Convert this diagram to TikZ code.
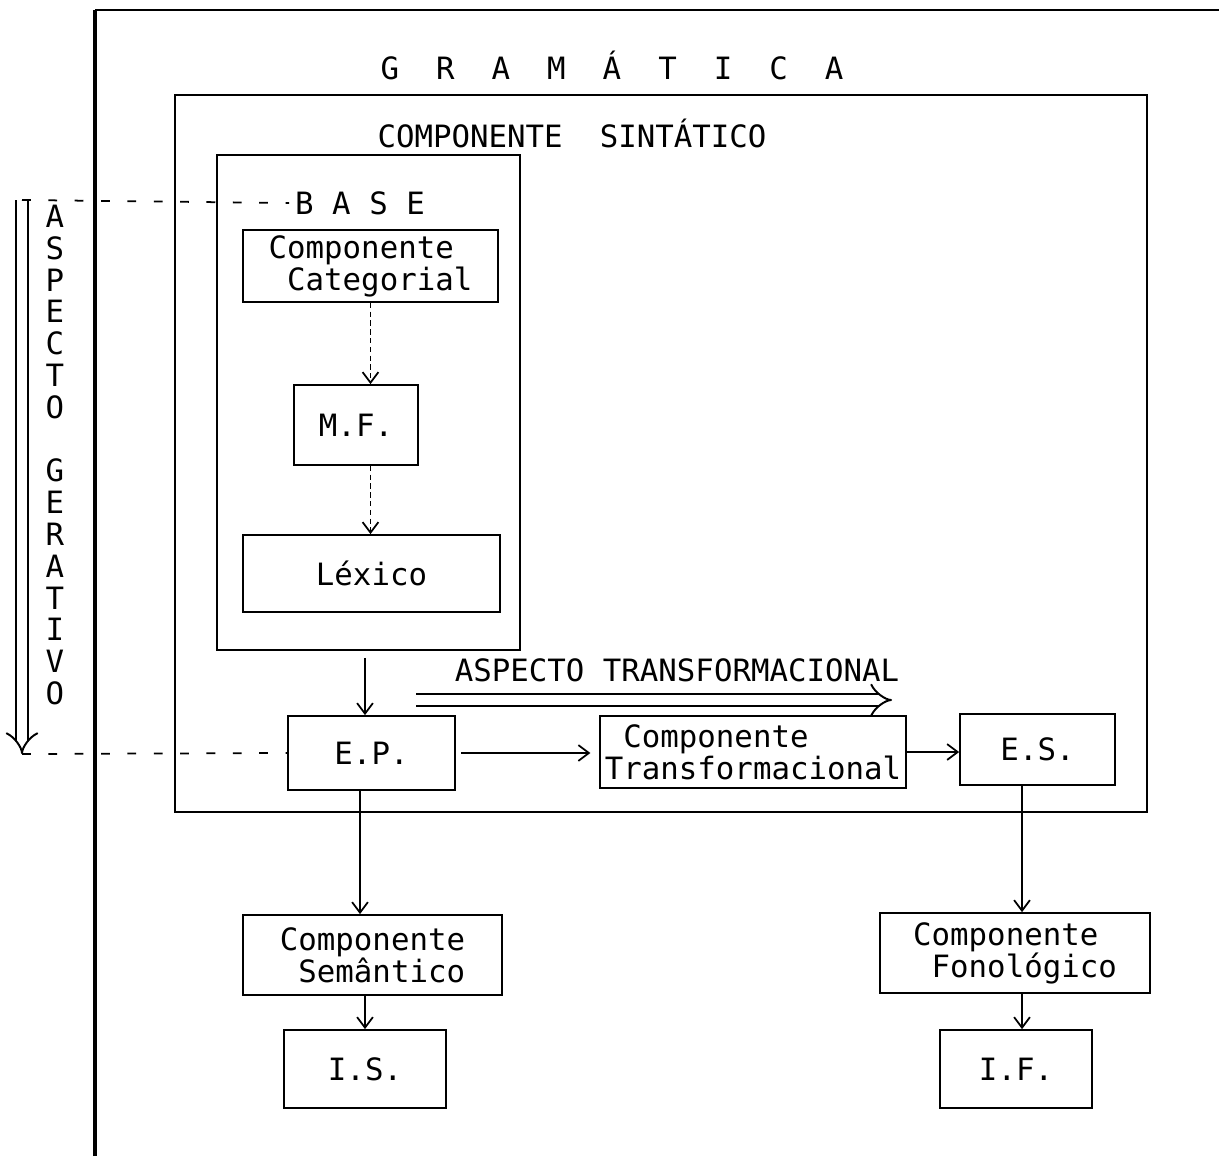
\documentclass[tikz,border=0pt]{standalone}
\usepackage{fontspec}
\setmonofont{DejaVu Sans Mono}
\usetikzlibrary{arrows.meta}
\begin{document}
\begin{tikzpicture}[x=0.02cm,y=-0.02cm,
  every node/.style={font=\ttfamily\fontsize{17.5}{18.1}\selectfont},
  box/.style={draw,line width=1pt,inner sep=0pt},
  arr/.style={line width=1pt,-{Straight Barb[length=6pt,width=9pt]}},
  guide/.style={line width=1pt,dash pattern=on 5pt off 10pt},
  dbl/.style={double,double distance=5.5pt,line width=1.1pt,-{Implies}}]

\useasboundingbox (0,0) rectangle (1219,1156);

\draw[line width=2.2pt] (95,1156) -- (95,10);
\draw[line width=1pt] (95,10) -- (1219,10);

\node[] (gram) at (612,65) {G~~R~~A~~M~~Á~~T~~I~~C~~A};

\node[box,minimum width=19.44cm,minimum height=14.34cm] (sint) at (661,453.5) {};
\node[] (sinttitle) at (572,133) {COMPONENTE~~SINTÁTICO};

\node[box,minimum width=6.06cm,minimum height=9.9cm] (base) at (368.5,402.5) {};
\node[] (basetitle) at (360,203) {B A S E};

\node[box,minimum width=5.1cm,minimum height=1.44cm,align=left] (cat) at (370.5,266) {Componente\\\hphantom{C}Categorial};
\node[box,minimum width=2.48cm,minimum height=1.6cm] (mf) at (356,425) {M.F.};
\node[box,minimum width=5.14cm,minimum height=1.54cm] (lex) at (371.5,573.5) {Léxico};

\node[box,minimum width=3.34cm,minimum height=1.48cm] (ep) at (371.5,753) {E.P.};
\node[box,minimum width=6.12cm,minimum height=1.44cm,align=left] (ct) at (753,752) {\hphantom{T}Componente\\Transformacional};
\node[box,minimum width=3.1cm,minimum height=1.42cm] (es) at (1037.5,749.5) {E.S.};

\node[box,minimum width=5.18cm,minimum height=1.6cm,align=left] (cs) at (372.5,955) {Componente\\\hphantom{C}Semântico};
\node[box,minimum width=3.24cm,minimum height=1.56cm] (is) at (365,1069) {I.S.};
\node[box,minimum width=5.4cm,minimum height=1.6cm,align=left] (cf) at (1015,953) {Componente\\\hphantom{C}Fonológico};
\node[box,minimum width=3.04cm,minimum height=1.56cm] (if) at (1016,1069) {I.F.};

\node[] (transtitle) at (677,670) {ASPECTO TRANSFORMACIONAL};
\coordinate (ts) at (416,700);
\coordinate (te) at (892,700);
\draw[dbl] (ts) -- (te);

\node[align=center] (gertitle) at (55,455) {A\\S\\P\\E\\C\\T\\O\\[18.1pt]G\\E\\R\\A\\T\\I\\V\\O};
\coordinate (gtop) at (22,200);
\coordinate (gbot) at (22,754);
\draw[dbl] (gtop) -- (gbot);
\draw[guide] (gtop) -- (basetitle.west);
\draw[guide] (gbot) -- (ep.west);

\draw[arr,densely dashed] (cat.south) -- (cat.south |- mf.north);
\draw[arr,densely dashed] (mf.south -| cat.south) -- (lex.north -| cat.south);
\draw[arr,shorten <=4pt] (base.south -| 365,0) -- (ep.north -| 365,0);
\draw[arr,shorten <=3pt,shorten >=5pt] (ep.east) -- (ep.east -| ct.west);
\draw[arr] (ct.east) -- (ct.east -| es.west);
\draw[arr] (ep.south -| 360,0) -- (cs.north -| 360,0);
\draw[arr] (cs.south -| is.north) -- (is.north);
\draw[arr] (es.south -| 1022,0) -- (cf.north -| 1022,0);
\draw[arr] (cf.south -| 1022,0) -- (if.north -| 1022,0);

\end{tikzpicture}
\end{document}
